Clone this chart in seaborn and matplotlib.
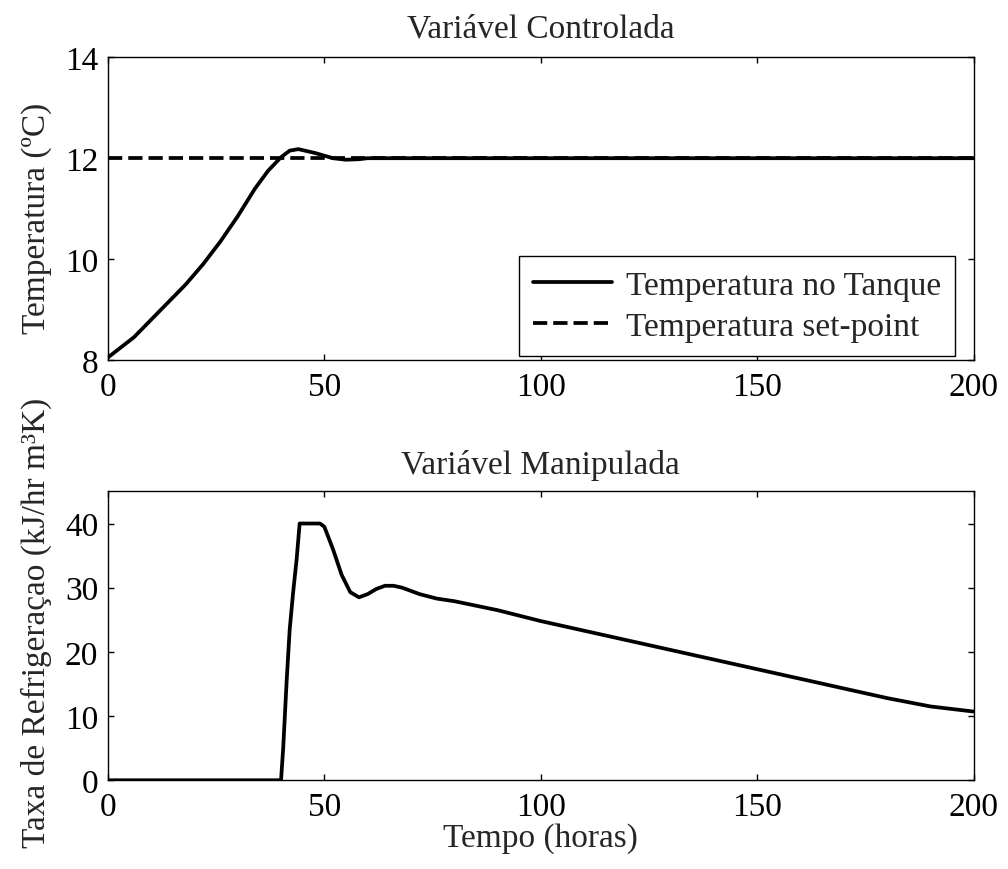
import matplotlib
matplotlib.use("Agg")
import matplotlib.pyplot as plt
import seaborn as sns
import pandas as pd

# --- data ---
t_temp = [0, 3, 6, 10, 14, 18, 22, 26, 30, 34, 37, 40, 42, 44, 46, 48, 50, 52, 55, 58, 60, 200]
temp = [8.05, 8.25, 8.45, 8.8, 9.15, 9.5, 9.9, 10.35, 10.85, 11.4, 11.75, 12.02, 12.15, 12.18,
        12.14, 12.1, 12.05, 12.0, 11.97, 11.98, 12.0, 12.0]
t_sp = [0, 200]
setpoint = [12.0, 12.0]

t_ref = [0, 40, 40.5, 41.3, 42, 42.8, 43.6, 44.3, 49, 50, 52, 54, 56, 58, 60, 62, 64, 66, 68,
         72, 76, 80, 90, 100, 110, 120, 130, 140, 150, 160, 170, 180, 190, 200]
refrig = [0, 0, 5, 15.5, 23.5, 29.3, 34.4, 40, 40, 39.5, 36, 32, 29.3, 28.5, 29.0, 29.8, 30.3,
          30.3, 30.0, 29.0, 28.3, 27.9, 26.5, 24.8, 23.3, 21.8, 20.3, 18.8, 17.3, 15.8, 14.3,
          12.8, 11.5, 10.7]

xticks = [0, 50, 100, 150, 200]
yticks_top = [8, 10, 12, 14]
yticks_bot = [0, 10, 20, 30, 40]

sns.set_style("ticks")
plt.rcParams["font.family"] = ["Liberation Serif", "DejaVu Serif"]
plt.rcParams["xtick.direction"] = "in"
plt.rcParams["ytick.direction"] = "in"

fig = plt.figure(figsize=(10.08, 8.7), dpi=100)
ax1 = fig.add_axes([0.107, 0.585, 0.859, 0.348])
ax2 = fig.add_axes([0.107, 0.102, 0.859, 0.332])

FS = 24
LW = 2.7

df_t = pd.DataFrame({"t": t_temp, "T": temp})
df_s = pd.DataFrame({"t": t_sp, "T": setpoint})
sns.lineplot(data=df_t, x="t", y="T", ax=ax1, color="black", lw=LW,
             label="Temperatura no Tanque", estimator=None, sort=False)
sns.lineplot(data=df_s, x="t", y="T", ax=ax1, color="black", lw=LW, linestyle=(0, (3.8, 1.6)),
             label="Temperatura set-point", estimator=None, sort=False)
ax1.set_xlim(0, 200)
ax1.set_ylim(8, 14)
ax1.set_xticks(xticks)
ax1.set_yticks(yticks_top)
ax1.set_title("Variável Controlada", fontsize=FS, pad=15)
ax1.set_xlabel("")
ax1.set_ylabel("Temperatura (ºC)", fontsize=FS)
ax1.yaxis.set_label_coords(-0.064, 0.47)
leg = ax1.legend(loc="lower right", fontsize=FS, frameon=True, fancybox=False,
                 edgecolor="black", framealpha=1, handlelength=2.35, borderpad=0.42,
                 labelspacing=0.33, handletextpad=0.42, borderaxespad=0,
                 bbox_to_anchor=(0.978, 0.013))
leg.get_frame().set_linewidth(1.0)

df_r = pd.DataFrame({"t": t_ref, "Q": refrig})
sns.lineplot(data=df_r, x="t", y="Q", ax=ax2, color="black", lw=LW,
             estimator=None, sort=False)
ax2.set_xlim(0, 200)
ax2.set_ylim(0, 45)
ax2.set_xticks(xticks)
ax2.set_yticks(yticks_bot)
ax2.set_title("Variável Manipulada", fontsize=FS, pad=13)
ax2.set_xlabel("Tempo (horas)", fontsize=FS, labelpad=0)
ax2.set_ylabel("Taxa de Refrigeraçao (kJ/hr m³K)", fontsize=FS)
ax2.yaxis.set_label_coords(-0.064, 0.55)

for ax in (ax1, ax2):
    for s in ax.spines.values():
        s.set_visible(True)
        s.set_linewidth(1.0)
        s.set_color("black")
    ax.tick_params(axis="both", which="both", direction="in", top=True, right=True,
                   length=4, width=1.0, labelsize=FS, colors="black")
    ax.tick_params(axis="x", pad=8)
    ax.tick_params(axis="y", pad=7)

fig.savefig("out.png", dpi=100, facecolor="white")
